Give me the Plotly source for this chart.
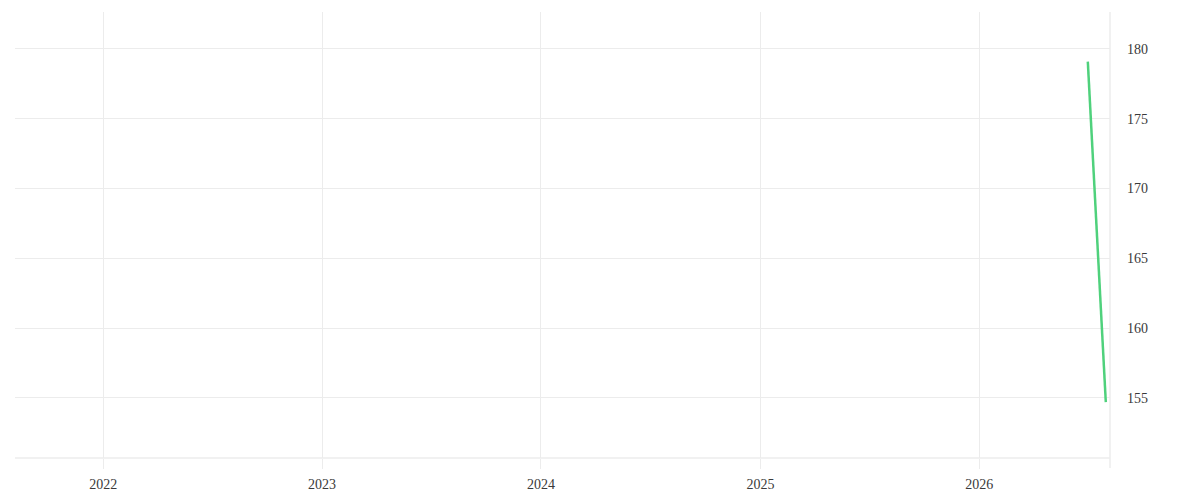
import plotly.graph_objects as go

# price series (only the latest two points fall inside the window)
dates = ["2026-07-01", "2026-07-31"]
values = [179.1, 154.7]

x_window = ["2021-08-07", "2026-08-07"]
y_window = [150.7, 182.65]
y_ticks = [155, 160, 165, 170, 175, 180]

GRID = "#ececec"
FONT = dict(family="Liberation Serif, DejaVu Serif, serif", size=14, color="#3a3a3a")

fig = go.Figure()
fig.add_trace(go.Scatter(
    x=dates, y=values, mode="lines",
    line=dict(color="#4fd17c", width=2.5),
    hoverinfo="x+y", showlegend=False,
))

# right-hand frame line, runs down past the plot like the x ticks do
fig.add_shape(type="line", xref="paper", yref="paper",
              x0=1, x1=1, y0=-0.0225, y1=1,
              line=dict(color=GRID, width=1.5))
# bottom edge line of the plot area
fig.add_shape(type="line", xref="paper", yref="paper",
              x0=0, x1=1, y0=0, y1=0, line=dict(color=GRID, width=1.5))

fig.update_layout(
    width=1200, height=500,
    paper_bgcolor="white", plot_bgcolor="white",
    margin=dict(l=7, r=98, t=4, b=50),
    font=FONT,
    xaxis=dict(range=x_window, type="date", dtick="M12", tickformat="%Y",
               showgrid=True, gridcolor=GRID, gridwidth=1,
               ticks="outside", ticklen=10, tickcolor=GRID,
               ticklabelstandoff=3,
               showline=False, zeroline=False),
    yaxis=dict(range=y_window, side="right", tickvals=y_ticks,
               showgrid=True, gridcolor=GRID, gridwidth=1,
               ticklabelstandoff=16, zeroline=False, showline=False),
)

fig.write_html("out.html")
